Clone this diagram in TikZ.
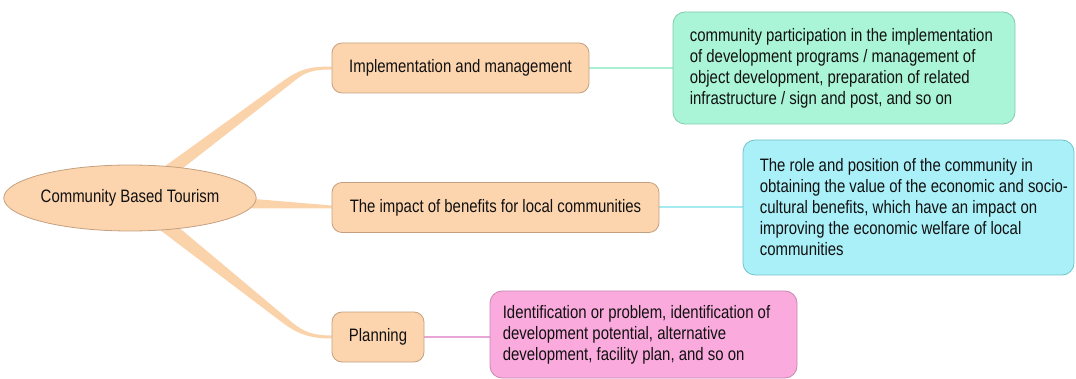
\documentclass[tikz,border=0pt]{standalone}
\usepackage{fontspec}
\setmainfont{Liberation Sans}[FakeStretch=0.83]
\usetikzlibrary{shapes.geometric,calc}
\pgfdeclarelayer{background}
\pgfsetlayers{background,main}

\definecolor{peach}{HTML}{FCD5AE}
\definecolor{peachline}{HTML}{C4A080}
\definecolor{branchcol}{HTML}{FBD3AA}
\definecolor{mint}{HTML}{AAF5D7}
\definecolor{mintline}{HTML}{80CCAE}
\definecolor{mintlink}{HTML}{A6F0D4}
\definecolor{aqua}{HTML}{AAF0F8}
\definecolor{aqualine}{HTML}{72C2CC}
\definecolor{aqualink}{HTML}{A6EAF2}
\definecolor{rose}{HTML}{FAAADC}
\definecolor{roseline}{HTML}{C888B2}
\definecolor{roselink}{HTML}{E8A6D6}
\definecolor{ink}{HTML}{111111}

\tikzset{
  basefont/.style={font=\fontsize{18}{21}\selectfont, text=ink},
  hub/.style={ellipse, fill=peach, draw=peachline, line width=0.8pt,
    minimum width=240, minimum height=66, inner sep=0, basefont},
  topic/.style={rectangle, rounded corners=10, fill=peach, draw=peachline,
    line width=0.8pt, minimum height=50, inner sep=0, basefont},
  detailbox/.style={rectangle, rounded corners=12, line width=0.8pt, inner sep=0},
  detailtext/.style={anchor=west, inner sep=0, align=left, basefont},
  branch/.style={fill=branchcol},
  link/.style={line width=2pt},
}

\begin{document}
\begin{tikzpicture}[x=1pt, y=-1pt]
  \useasboundingbox (0,0) rectangle (1076,379);

  % central idea
  \node[hub] (cbt) at (130,198) {Community Based Tourism};

  % main topics
  \node[topic, minimum width=257] (impl) at (460.5,68) {Implementation and management};
  \node[topic, minimum width=327] (impact) at (495.5,207.5) {The impact of benefits for local communities};
  \node[topic, minimum width=92] (plan) at (378,337) {Planning};

  % detail boxes
  \node[detailbox, fill=mint, draw=mintline, minimum width=342, minimum height=112] (green) at (844,68) {};
  \node[detailtext] (greentext) at ([xshift=17]green.west)
    {community participation in the implementation\\
     of development programs / management of\\
     object development, preparation of related\\
     infrastructure / sign and post, and so on};

  \node[detailbox, fill=aqua, draw=aqualine, minimum width=331, minimum height=135] (cyan) at (908.5,207.5) {};
  \node[detailtext] (cyantext) at ([xshift=17]cyan.west)
    {The role and position of the community in\\
     obtaining the value of the economic and socio-\\
     cultural benefits, which have an impact on\\
     improving the economic welfare of local\\
     communities};

  \node[detailbox, fill=rose, draw=roseline, minimum width=307, minimum height=87] (pink) at (643.5,334.5) {};
  \node[detailtext] (pinktext) at ([xshift=13]pink.west)
    {Identification or problem, identification of\\
     development potential, alternative\\
     development, facility plan, and so on};

  % topic-to-detail links
  \begin{pgfonlayer}{background}
    \draw[link, mintlink] (impl.east) -- (green.west);
    \draw[link, aqualink] (impact.east) -- (cyan.west);
    \draw[link, roselink] (plan.east) -- (plan.east -| pink.west);

    % tapered branches from the hub
    \fill[branch] ($(cbt.center)+(2,-8)$) -- ($(impl.west)+(-50,14)$)
      .. controls ($(impl.west)+(-32,1)$) and ($(impl.west)+(-22,-1.5)$) .. ($(impl.west)+(0,-1.5)$)
      -- ($(impl.west)+(0,1.5)$)
      .. controls ($(impl.west)+(-18,1.5)$) and ($(impl.west)+(-26,4)$) .. ($(impl.west)+(-36,12)$)
      -- ($(cbt.center)+(25,-8)$) -- cycle;

    \fill[branch] ($(cbt.east)+(-20,-0.5)$) -- ($(impact.west)+(0,-2)$)
      -- ($(impact.west)+(0,1)$) -- ($(cbt.east)+(-20,10.5)$) -- cycle;

    \fill[branch] ($(cbt.center)+(-3,7)$) -- ($(plan.west)+(-50,-15)$)
      .. controls ($(plan.west)+(-34,-3)$) and ($(plan.west)+(-22,1.5)$) .. ($(plan.west)+(0,1.5)$)
      -- ($(plan.west)+(0,-1.5)$)
      .. controls ($(plan.west)+(-18,-1.5)$) and ($(plan.west)+(-28,-5)$) .. ($(plan.west)+(-40,-15)$)
      -- ($(cbt.center)+(22,7)$) -- cycle;
  \end{pgfonlayer}
\end{tikzpicture}
\end{document}
